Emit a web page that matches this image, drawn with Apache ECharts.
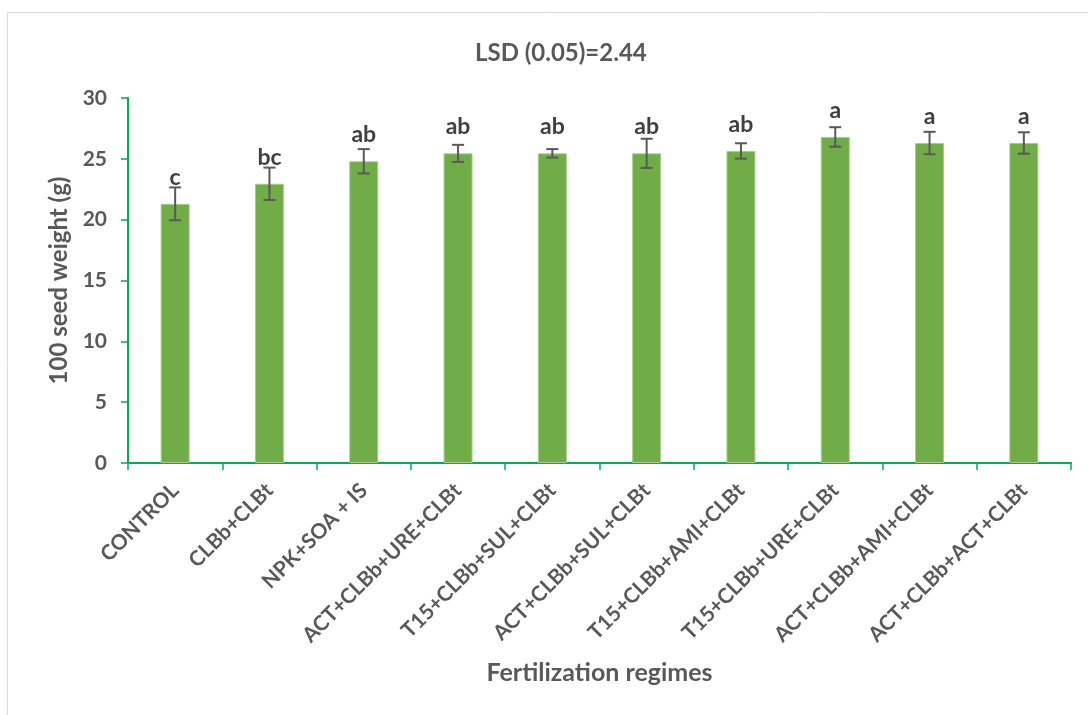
<!DOCTYPE html>
<html>
<head>
<meta charset="utf-8">
<script src="https://cdn.jsdelivr.net/npm/echarts@6/dist/echarts.min.js"></script>
<style>html,body{margin:0;padding:0;background:#fff}#c{width:1088px;height:715px}</style>
</head>
<body>
<div id="c"></div>
<script>
var categories = ['CONTROL','CLBb+CLBt','NPK+SOA + IS','ACT+CLBb+URE+CLBt','T15+CLBb+SUL+CLBt','ACT+CLBb+SUL+CLBt','T15+CLBb+AMI+CLBt','T15+CLBb+URE+CLBt','ACT+CLBb+AMI+CLBt','ACT+CLBb+ACT+CLBt'];
var means = [21.3, 22.95, 24.8, 25.45, 25.45, 25.45, 25.65, 26.8, 26.3, 26.3];
var errors = [1.35, 1.33, 1.0, 0.7, 0.35, 1.2, 0.63, 0.8, 0.92, 0.88];
var letters = ['c','bc','ab','ab','ab','ab','ab','a','a','a'];
var yTicks = {min: 0, max: 30, interval: 5};

var FONT = 'Lato';
var chart = echarts.init(document.getElementById('c'), null, {renderer: 'canvas'});
var errData = means.map(function (m, i) { return [i, m - errors[i], m + errors[i]]; });

chart.setOption({
  animation: false,
  backgroundColor: '#fff',
  textStyle: {fontFamily: FONT},
  title: {
    text: 'LSD (0.05)=2.44',
    left: 470, top: 36,
    textStyle: {fontFamily: FONT, fontSize: 24, fontWeight: 'bold', color: '#595959'}
  },
  graphic: [{
    type: 'rect', silent: true, z: -10,
    shape: {x: 7.5, y: 12.5, width: 1100, height: 720},
    style: {fill: 'none', stroke: '#d9d9d9', lineWidth: 1}
  }],
  grid: {left: 128, right: 17, top: 98, bottom: 252, containLabel: false},
  xAxis: {
    type: 'category',
    data: categories,
    name: 'Fertilization regimes',
    nameLocation: 'middle',
    nameGap: 197,
    nameTextStyle: {fontFamily: FONT, fontSize: 25, fontWeight: 'bold', color: '#595959'},
    axisLine: {lineStyle: {color: '#00B050', width: 2}},
    axisTick: {show: true, length: 7, lineStyle: {color: '#00B050', width: 1.5}},
    axisLabel: {rotate: 45, interval: 0, margin: 24, fontFamily: FONT, fontSize: 21, fontWeight: 'bold', color: '#595959'}
  },
  yAxis: {
    type: 'value',
    min: yTicks.min, max: yTicks.max, interval: yTicks.interval,
    name: '100 seed weight (g)',
    nameLocation: 'middle',
    nameGap: 56,
    nameTextStyle: {fontFamily: FONT, fontSize: 24, fontWeight: 'bold', color: '#595959'},
    axisLine: {show: true, lineStyle: {color: '#00B050', width: 2}},
    axisTick: {show: true, length: 7, lineStyle: {color: '#00B050', width: 1.5}},
    axisLabel: {margin: 21, fontFamily: FONT, fontSize: 21, fontWeight: 'bold', color: '#595959'},
    splitLine: {show: false}
  },
  series: [{
    type: 'bar',
    data: means,
    barWidth: 29,
    itemStyle: {color: '#70AD47', borderColor: '#a5cf88', borderWidth: 1},
    label: {
      show: true, position: 'top', distance: 15,
      formatter: function (p) { return letters[p.dataIndex]; },
      fontFamily: FONT, fontSize: 23, fontWeight: 'bold', color: '#404040'
    },
    z: 2
  }, {
    type: 'custom',
    data: errData,
    z: 5,
    renderItem: function (params, api) {
      var x = api.value(0);
      var lo = api.coord([x, api.value(1)]);
      var hi = api.coord([x, api.value(2)]);
      var cap = 6;
      var st = {stroke: '#595959', lineWidth: 2, fill: 'none'};
      return {
        type: 'group',
        children: [
          {type: 'line', shape: {x1: lo[0], y1: lo[1], x2: hi[0], y2: hi[1]}, style: st},
          {type: 'line', shape: {x1: lo[0] - cap, y1: lo[1], x2: lo[0] + cap, y2: lo[1]}, style: st},
          {type: 'line', shape: {x1: hi[0] - cap, y1: hi[1], x2: hi[0] + cap, y2: hi[1]}, style: st}
        ]
      };
    }
  }]
});
</script>
</body>
</html>
